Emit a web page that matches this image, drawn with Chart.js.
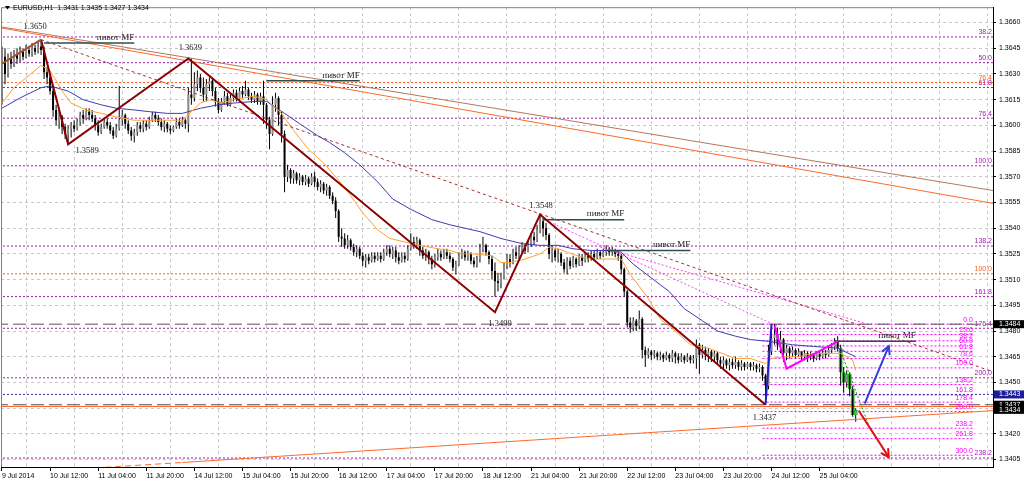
<!DOCTYPE html>
<html>
<head>
<meta charset="utf-8">
<title>EURUSD,H1</title>
<script src="https://cdn.jsdelivr.net/npm/chart.js@4.4.1/dist/chart.umd.min.js"></script>
<style>
  html, body { margin: 0; padding: 0; background: #fff; }
  #wrap { width: 1024px; height: 482px; }
</style>
</head>
<body>
<div id="wrap"><canvas id="mycanvas" width="1024" height="482"></canvas></div>
<script>
// EURUSD H1, bar 0 = 9 Jul 2014 20:00 ... bar 284 = 25 Jul 2014 16:00
var opens = [
  1.3627,1.3640,1.3630,1.3639,1.3636,1.3641,1.3639,1.3643,1.3640,1.3644,
  1.3642,1.3645,1.3643,1.3646,1.3644,1.3631,1.3628,1.3620,1.3609,1.3603,
  1.3605,1.3599,1.3595,1.3598,1.3600,1.3598,1.3602,1.3606,1.3604,1.3608,
  1.3606,1.3604,1.3600,1.3596,1.3599,1.3602,1.3600,1.3597,1.3594,1.3598,
  1.3603,1.3606,1.3601,1.3597,1.3594,1.3596,1.3600,1.3598,1.3601,1.3599,
  1.3603,1.3606,1.3604,1.3602,1.3599,1.3601,1.3598,1.3597,1.3599,1.3602,
  1.3600,1.3603,1.3601,1.3618,1.3616,1.3624,1.3628,1.3622,1.3618,1.3624,
  1.3626,1.3620,1.3614,1.3609,1.3614,1.3617,1.3612,1.3616,1.3619,1.3616,
  1.3620,1.3618,1.3621,1.3617,1.3615,1.3618,1.3614,1.3617,1.3612,1.3603,
  1.3595,1.3612,1.3616,1.3606,1.3595,1.3570,1.3574,1.3569,1.3572,1.3568,
  1.3570,1.3567,1.3569,1.3566,1.3570,1.3567,1.3564,1.3566,1.3562,1.3564,
  1.3559,1.3556,1.3550,1.3535,1.3534,1.3530,1.3533,1.3529,1.3526,1.3528,
  1.3524,1.3521,1.3523,1.3521,1.3524,1.3522,1.3524,1.3522,1.3526,1.3528,
  1.3525,1.3527,1.3523,1.3521,1.3524,1.3522,1.3528,1.3532,1.3530,1.3533,
  1.3527,1.3524,1.3526,1.3522,1.3519,1.3523,1.3525,1.3523,1.3526,1.3524,
  1.3522,1.3517,1.3519,1.3524,1.3526,1.3523,1.3525,1.3521,1.3519,1.3522,
  1.3528,1.3530,1.3526,1.3522,1.3515,1.3509,1.3508,1.3512,1.3518,1.3522,
  1.3520,1.3526,1.3524,1.3527,1.3529,1.3527,1.3531,1.3535,1.3533,1.3539,
  1.3544,1.3540,1.3536,1.3525,1.3527,1.3523,1.3525,1.3520,1.3516,1.3521,
  1.3518,1.3522,1.3519,1.3523,1.3521,1.3524,1.3522,1.3525,1.3523,1.3526,
  1.3524,1.3526,1.3528,1.3526,1.3527,1.3525,1.3524,1.3516,1.3503,1.3485,
  1.3482,1.3486,1.3483,1.3487,1.3469,1.3466,1.3468,1.3466,1.3467,1.3465,
  1.3466,1.3464,1.3466,1.3464,1.3467,1.3465,1.3463,1.3465,1.3463,1.3465,
  1.3463,1.3464,1.3472,1.3466,1.3469,1.3466,1.3468,1.3465,1.3467,1.3463,
  1.3461,1.3463,1.3460,1.3462,1.3460,1.3462,1.3459,1.3461,1.3459,1.3461,
  1.3459,1.3460,1.3458,1.3459,1.3454,1.3448,1.3468,1.3476,1.3478,1.3472,
  1.3475,1.3467,1.3470,1.3467,1.3469,1.3466,1.3468,1.3465,1.3467,1.3465,
  1.3466,1.3464,1.3467,1.3465,1.3467,1.3466,1.3469,1.3471,1.3474,1.3470,
  1.3456,1.3450,1.3455,1.3446,1.3431
];
var highs = [
  1.3646,1.3645,1.3642,1.3643,1.3644,1.3645,1.3646,1.3645,1.3647,1.3646,
  1.3648,1.3647,1.3649,1.3650,1.3646,1.3634,1.3630,1.3622,1.3612,1.3609,
  1.3606,1.3601,1.3600,1.3602,1.3603,1.3604,1.3608,1.3609,1.3610,1.3610,
  1.3609,1.3606,1.3603,1.3601,1.3604,1.3604,1.3602,1.3599,1.3601,1.3623,
  1.3609,1.3607,1.3603,1.3599,1.3598,1.3602,1.3602,1.3603,1.3603,1.3605,
  1.3608,1.3608,1.3606,1.3604,1.3603,1.3602,1.3600,1.3600,1.3604,1.3604,
  1.3605,1.3604,1.3622,1.3639,1.3631,1.3632,1.3630,1.3628,1.3627,1.3628,
  1.3628,1.3622,1.3616,1.3616,1.3620,1.3619,1.3618,1.3621,1.3621,1.3622,
  1.3623,1.3626,1.3622,1.3619,1.3620,1.3619,1.3619,1.3626,1.3613,1.3605,
  1.3617,1.3619,1.3617,1.3608,1.3597,1.3577,1.3575,1.3574,1.3573,1.3572,
  1.3571,1.3571,1.3570,1.3572,1.3573,1.3569,1.3568,1.3567,1.3566,1.3565,
  1.3561,1.3558,1.3551,1.3540,1.3537,1.3536,1.3534,1.3531,1.3530,1.3529,
  1.3526,1.3525,1.3525,1.3526,1.3526,1.3526,1.3526,1.3528,1.3530,1.3530,
  1.3529,1.3529,1.3526,1.3526,1.3526,1.3530,1.3537,1.3535,1.3535,1.3534,
  1.3529,1.3528,1.3527,1.3524,1.3525,1.3528,1.3527,1.3528,1.3528,1.3526,
  1.3523,1.3521,1.3526,1.3528,1.3527,1.3527,1.3526,1.3523,1.3524,1.3531,
  1.3535,1.3531,1.3527,1.3524,1.3520,1.3514,1.3514,1.3520,1.3525,1.3525,
  1.3528,1.3529,1.3530,1.3532,1.3531,1.3533,1.3537,1.3538,1.3542,1.3548,
  1.3546,1.3543,1.3537,1.3530,1.3528,1.3528,1.3526,1.3522,1.3523,1.3523,
  1.3524,1.3523,1.3525,1.3525,1.3526,1.3526,1.3527,1.3527,1.3528,1.3527,
  1.3528,1.3530,1.3529,1.3529,1.3528,1.3527,1.3525,1.3517,1.3504,1.3488,
  1.3488,1.3487,1.3492,1.3488,1.3471,1.3470,1.3469,1.3469,1.3468,1.3468,
  1.3467,1.3468,1.3467,1.3469,1.3468,1.3467,1.3467,1.3466,1.3467,1.3466,
  1.3466,1.3475,1.3473,1.3472,1.3471,1.3470,1.3469,1.3469,1.3468,1.3465,
  1.3465,1.3464,1.3464,1.3464,1.3465,1.3463,1.3463,1.3462,1.3462,1.3462,
  1.3462,1.3461,1.3461,1.3460,1.3455,1.3472,1.3484,1.3484,1.3482,1.3480,
  1.3476,1.3472,1.3471,1.3471,1.3470,1.3470,1.3468,1.3469,1.3468,1.3468,
  1.3467,1.3468,1.3468,1.3469,1.3469,1.3471,1.3473,1.3476,1.3477,1.3472,
  1.3459,1.3457,1.3456,1.3448,1.3435
];
var lows = [
  1.3612,1.3624,1.3628,1.3633,1.3634,1.3636,1.3637,1.3638,1.3639,1.3640,
  1.3640,1.3641,1.3642,1.3641,1.3627,1.3624,1.3618,1.3605,1.3600,1.3598,
  1.3595,1.3592,1.3589,1.3593,1.3596,1.3597,1.3600,1.3601,1.3603,1.3603,
  1.3602,1.3597,1.3594,1.3595,1.3598,1.3598,1.3595,1.3592,1.3593,1.3597,
  1.3600,1.3598,1.3595,1.3591,1.3590,1.3594,1.3596,1.3596,1.3597,1.3598,
  1.3602,1.3602,1.3600,1.3597,1.3596,1.3596,1.3595,1.3596,1.3598,1.3598,
  1.3599,1.3598,1.3596,1.3612,1.3614,1.3620,1.3619,1.3614,1.3614,1.3620,
  1.3617,1.3611,1.3607,1.3608,1.3612,1.3611,1.3611,1.3614,1.3614,1.3615,
  1.3616,1.3617,1.3615,1.3613,1.3613,1.3612,1.3612,1.3601,1.3598,1.3586,
  1.3594,1.3608,1.3600,1.3590,1.3561,1.3567,1.3566,1.3566,1.3566,1.3565,
  1.3565,1.3565,1.3564,1.3565,1.3564,1.3562,1.3561,1.3560,1.3559,1.3557,
  1.3554,1.3546,1.3532,1.3529,1.3528,1.3528,1.3527,1.3524,1.3523,1.3522,
  1.3518,1.3517,1.3519,1.3520,1.3520,1.3521,1.3520,1.3521,1.3524,1.3523,
  1.3522,1.3520,1.3519,1.3520,1.3520,1.3521,1.3527,1.3528,1.3528,1.3524,
  1.3522,1.3521,1.3519,1.3516,1.3517,1.3521,1.3521,1.3522,1.3522,1.3520,
  1.3515,1.3513,1.3518,1.3522,1.3521,1.3521,1.3519,1.3517,1.3517,1.3520,
  1.3526,1.3524,1.3519,1.3510,1.3500,1.3503,1.3505,1.3510,1.3516,1.3517,
  1.3519,1.3522,1.3522,1.3525,1.3525,1.3526,1.3529,1.3530,1.3532,1.3537,
  1.3535,1.3533,1.3522,1.3520,1.3521,1.3520,1.3518,1.3514,1.3513,1.3516,
  1.3517,1.3517,1.3518,1.3518,1.3520,1.3520,1.3521,1.3521,1.3522,1.3522,
  1.3523,1.3524,1.3524,1.3524,1.3523,1.3521,1.3513,1.3500,1.3482,1.3479,
  1.3480,1.3480,1.3481,1.3464,1.3459,1.3464,1.3463,1.3464,1.3463,1.3463,
  1.3462,1.3463,1.3462,1.3462,1.3461,1.3461,1.3462,1.3461,1.3462,1.3461,
  1.3461,1.3458,1.3455,1.3464,1.3463,1.3462,1.3462,1.3462,1.3461,1.3458,
  1.3458,1.3458,1.3457,1.3458,1.3458,1.3457,1.3457,1.3457,1.3458,1.3457,
  1.3457,1.3456,1.3456,1.3451,1.3437,1.3446,1.3466,1.3472,1.3469,1.3467,
  1.3462,1.3463,1.3464,1.3465,1.3464,1.3465,1.3463,1.3463,1.3462,1.3463,
  1.3462,1.3463,1.3463,1.3464,1.3464,1.3465,1.3467,1.3469,1.3468,1.3448,
  1.3444,1.3447,1.3442,1.3430,1.3427
];
var closes = [
  1.3640,1.3630,1.3639,1.3636,1.3641,1.3639,1.3643,1.3640,1.3644,1.3642,
  1.3645,1.3643,1.3646,1.3644,1.3631,1.3628,1.3620,1.3609,1.3603,1.3605,
  1.3599,1.3595,1.3598,1.3600,1.3598,1.3602,1.3606,1.3604,1.3608,1.3606,
  1.3604,1.3600,1.3596,1.3599,1.3602,1.3600,1.3597,1.3594,1.3598,1.3603,
  1.3606,1.3601,1.3597,1.3594,1.3596,1.3600,1.3598,1.3601,1.3599,1.3603,
  1.3606,1.3604,1.3602,1.3599,1.3601,1.3598,1.3597,1.3599,1.3602,1.3600,
  1.3603,1.3601,1.3618,1.3616,1.3624,1.3628,1.3622,1.3618,1.3624,1.3626,
  1.3620,1.3614,1.3609,1.3614,1.3617,1.3612,1.3616,1.3619,1.3616,1.3620,
  1.3618,1.3621,1.3617,1.3615,1.3618,1.3614,1.3617,1.3612,1.3603,1.3595,
  1.3612,1.3616,1.3606,1.3595,1.3570,1.3574,1.3569,1.3572,1.3568,1.3570,
  1.3567,1.3569,1.3566,1.3570,1.3567,1.3564,1.3566,1.3562,1.3564,1.3559,
  1.3556,1.3550,1.3535,1.3534,1.3530,1.3533,1.3529,1.3526,1.3528,1.3524,
  1.3521,1.3523,1.3521,1.3524,1.3522,1.3524,1.3522,1.3526,1.3528,1.3525,
  1.3527,1.3523,1.3521,1.3524,1.3522,1.3528,1.3532,1.3530,1.3533,1.3527,
  1.3524,1.3526,1.3522,1.3519,1.3523,1.3525,1.3523,1.3526,1.3524,1.3522,
  1.3517,1.3519,1.3524,1.3526,1.3523,1.3525,1.3521,1.3519,1.3522,1.3528,
  1.3530,1.3526,1.3522,1.3515,1.3509,1.3508,1.3512,1.3518,1.3522,1.3520,
  1.3526,1.3524,1.3527,1.3529,1.3527,1.3531,1.3535,1.3533,1.3539,1.3544,
  1.3540,1.3536,1.3525,1.3527,1.3523,1.3525,1.3520,1.3516,1.3521,1.3518,
  1.3522,1.3519,1.3523,1.3521,1.3524,1.3522,1.3525,1.3523,1.3526,1.3524,
  1.3526,1.3528,1.3526,1.3527,1.3525,1.3524,1.3516,1.3503,1.3485,1.3482,
  1.3486,1.3483,1.3487,1.3469,1.3466,1.3468,1.3466,1.3467,1.3465,1.3466,
  1.3464,1.3466,1.3464,1.3467,1.3465,1.3463,1.3465,1.3463,1.3465,1.3463,
  1.3464,1.3472,1.3466,1.3469,1.3466,1.3468,1.3465,1.3467,1.3463,1.3461,
  1.3463,1.3460,1.3462,1.3460,1.3462,1.3459,1.3461,1.3459,1.3461,1.3459,
  1.3460,1.3458,1.3459,1.3454,1.3448,1.3468,1.3476,1.3478,1.3472,1.3475,
  1.3467,1.3470,1.3467,1.3469,1.3466,1.3468,1.3465,1.3467,1.3465,1.3466,
  1.3464,1.3467,1.3465,1.3467,1.3466,1.3469,1.3471,1.3474,1.3470,1.3456,
  1.3450,1.3455,1.3446,1.3431,1.3434
];

// time axis: a label every 16 bars, grid halfway between
var xTickIdx = [0,16,32,48,64,80,96,112,128,144,160,176,192,208,224,240,256,272];
var xTickLabels = ['9 Jul 2014','10 Jul 12:00','11 Jul 04:00','11 Jul 20:00','14 Jul 12:00',
  '15 Jul 04:00','15 Jul 20:00','16 Jul 12:00','17 Jul 04:00','17 Jul 20:00','18 Jul 12:00',
  '21 Jul 04:00','21 Jul 20:00','22 Jul 12:00','23 Jul 04:00','23 Jul 20:00','24 Jul 12:00','25 Jul 04:00'];
var gridIdx = [8,24,40,56,72,88,104,120,136,152,168,184,200,216,232,248,264,280,296,312,328];
var priceTicks = [1.3405,1.3420,1.3435,1.3450,1.3465,1.3480,1.3495,1.3510,1.3525,
  1.3540,1.3555,1.3570,1.3585,1.3600,1.3615,1.3630,1.3645,1.3660];

// moving averages
var fastIdx = [0,4,13,16,20,23,28,33,38,44,49,55,60,63,66,69,73,77,84,88,93,97,102,107,112,116,120,125,129,134,
  139,145,149,153,157,163,166,169,174,179,182,185,188,193,197,204,206,209,215,219,224,229,235,238,244,249,254,256,260,265,
  270,276,279,283,284];
var fastMA = [1.3613,1.3622,1.3635,1.3632,1.3620,1.3613,1.3609,1.3607,1.3605,1.3603,1.3603,1.3603,1.3603,1.3608,1.3613,
  1.3615,1.3613,1.3615,1.3617,1.3615,1.3607,1.3597,1.3586,1.3578,1.3568,1.3559,1.3549,1.3539,1.3534,1.3532,
  1.3530,1.3528,1.3527,1.3525,1.3525,1.3524,1.3520,1.3520,1.3522,1.3525,1.3529,1.3528,1.3526,1.3523,1.3522,
  1.3522,1.3522,1.3513,1.3499,1.3487,1.3480,1.3472,1.3470,1.3468,1.3464,1.3464,1.3461,1.3464,1.3465,1.3465,
  1.3467,1.3467,1.3467,1.3463,1.3457];
var slowIdx = [0,6,13,16,22,27,33,38,44,49,55,60,66,72,77,84,88,94,99,105,109,114,119,125,130,136,143,149,159,166,
  173,179,185,190,196,202,206,210,216,222,227,233,238,244,249,255,263,270,278,284];
var slowMA = [1.3610,1.3616,1.3622,1.3623,1.3620,1.3615,1.3612,1.3610,1.3609,1.3608,1.3607,1.3607,1.3610,1.3612,1.3613,
  1.3614,1.3614,1.3607,1.3601,1.3594,1.3590,1.3584,1.3577,1.3567,1.3557,1.3551,1.3545,1.3542,1.3538,1.3534,
  1.3531,1.3530,1.3530,1.3528,1.3527,1.3527,1.3526,1.3519,1.3511,1.3503,1.3493,1.3486,1.3480,1.3477,1.3475,
  1.3474,1.3472,1.3471,1.3470,1.3465];

// zigzag swings
var zigIdx = [13,22,62,164,179,254];
var zigPrice = [1.3650,1.3589,1.3639,1.3491,1.3548,1.3437];
var zigText = ['1.3650','1.3589','1.3639','1.3499','1.3548','1.3437'];
var legIdx = [0,13], legPrice = [1.3636,1.3650];
var upLegIdx = [254,256], upLegPrice = [1.3437,1.3484];
var triIdx = [257,261,278], triPrice = [1.3483,1.3458,1.3474];

// pivot MF marks
var pivotFrom = [14,88,180,201,277];
var pivotTo = [44,119,207,229,304];
var pivotPrice = [1.3648,1.3626,1.3545,1.3527,1.3474];

// trend lines
var trendA = [1.36577,1.35619];   // brown, idx -1 .. 330
var trendB = [1.36571,1.35544];   // orange, idx -1 .. 330
var lowTrendIdx = [31,60,330], lowTrendPrice = [1.34001,1.34033,1.34336];
var dotTrendIdx = [13,330], dotTrendPrice = [1.3650,1.34560];
var pinkDiagA = [[181,258],[1.35446,1.34828]];
var pinkDiagB = [[199,287],[1.35290,1.34846]];
var greenDiag = [[279,289],[1.34683,1.34220]];
var arrowUp = [[287,295],[1.34377,1.34712]];
var arrowDown = [[285,295],[1.34336,1.34064]];

// fibo levels
var purpleNames = ['38.2','50.0','61.8','76.4','100.0','138.2','161.8','176.4','200.0','238.2'];
var purplePrices = [1.36516,1.36366,1.36221,1.36042,1.35764,1.35296,1.35001,1.34816,1.34527,1.34059];
var orangeNames = ['76.4','100.0'];
var orangePrices = [1.36250,1.35134];
var pinkNames = ['0.0','23.6','38.2','50.0','61.8','78.6','100.0','138.2','161.8','178.4','200.0','238.2','261.8','300.0'];
var pinkPrices = [1.34840,1.34780,1.34743,1.34713,1.34682,1.34640,1.34585,1.34488,1.34427,1.34385,1.34330,1.34233,1.34172,1.34075];
var pinkFrom = 253, pinkTo = 323;
var dashPrices = [1.3484,1.3437];
var bluePrice = 1.3443;
var orangeSolid = 1.3436;
var boxPrices = [1.3484,1.3443,1.3437,1.3434];

var X_MIN = -0.33, X_MAX = 329.68;

function seg(xs, ys, color, width, dash, order) {
	return {
		type: 'line', xAxisID: 'x', yAxisID: 'y',
		data: xs.map(function (v, k) { return {x: v, y: ys[k]}; }),
		borderColor: color, borderWidth: width, borderDash: dash || [],
		pointRadius: 0, fill: false, tension: 0, order: order
	};
}

var datasets = [];
// horizontal levels
purplePrices.forEach(function (p) { datasets.push(seg([X_MIN - 2, X_MAX + 2], [p, p], '#9a1fa8', 1, [2, 2], 20)); });
orangePrices.forEach(function (p) { datasets.push(seg([X_MIN - 2, X_MAX + 2], [p, p], '#ff5a1f', 1, [2, 2], 20)); });
pinkPrices.forEach(function (p) { datasets.push(seg([pinkFrom, pinkTo], [p, p], '#ff00ff', 1, [2, 2], 20)); });
dashPrices.forEach(function (p) { datasets.push(seg([X_MIN - 2, X_MAX + 2], [p, p], '#555555', 1, [13, 5], 19)); });
datasets.push(seg([X_MIN - 2, X_MAX + 2], [bluePrice, bluePrice], '#3030a0', 1, [2, 2], 19));
datasets.push(seg([X_MIN - 2, X_MAX + 2], [orangeSolid, orangeSolid], '#ff5a1f', 1, [], 19));

// candles
datasets.push({
	type: 'bar', xAxisID: 'x', yAxisID: 'y', order: 8, grouped: false,
	data: lows.map(function (l, i) { return {x: i, y: [l, highs[i]]}; }),
	backgroundColor: '#000000', barThickness: 1, inflateAmount: 0
});
datasets.push({
	type: 'bar', xAxisID: 'x', yAxisID: 'y', order: 7, grouped: false,
	data: opens.map(function (o, i) { return {x: i, y: [o, closes[i]]}; }),
	backgroundColor: opens.map(function (o, i) { return closes[i] >= o ? '#8c8c8c' : '#000000'; }),
	barThickness: 2, minBarLength: 1, inflateAmount: 0
});
datasets.push({
	type: 'bar', xAxisID: 'x', yAxisID: 'y', order: 6, grouped: false,
	data: [279, 280, 281, 282, 283, 284].map(function (i) { return {x: i, y: [opens[i], closes[i]]}; }),
	backgroundColor: 'rgba(0,0,0,0)', borderColor: '#00b400', borderWidth: 1,
	barThickness: 4, minBarLength: 3, inflateAmount: 0
});

// moving averages
datasets.push(seg(fastIdx, fastMA, '#ffa033', 1, [], 5));
datasets.push(seg(slowIdx, slowMA, '#3c3cb4', 1, [], 5));

// trend lines
datasets.push(seg([-1, 330], trendA, '#b4785a', 1, [], 4));
datasets.push(seg([-1, 330], trendB, '#ff6a2a', 1, [], 4));
datasets.push(seg(lowTrendIdx.slice(0, 2), lowTrendPrice.slice(0, 2), '#ff6a2a', 1, [6, 4], 4));
datasets.push(seg(lowTrendIdx.slice(1), lowTrendPrice.slice(1), '#ff6a2a', 1, [], 4));
datasets.push(seg(dotTrendIdx, dotTrendPrice, '#a03030', 1, [3, 3], 4));
datasets.push(seg(pinkDiagA[0], pinkDiagA[1], '#ff40ff', 1, [2, 2], 4));
datasets.push(seg(pinkDiagB[0], pinkDiagB[1], '#ff40ff', 1, [2, 2], 4));
datasets.push(seg(greenDiag[0], greenDiag[1], '#00a000', 1, [2, 2], 4));

// zigzag
datasets.push(seg(legIdx, legPrice, '#a0522d', 2, [], 3));
datasets.push(seg(zigIdx, zigPrice, '#8b0000', 2, [], 3));
datasets.push(seg(upLegIdx, upLegPrice, '#2020c0', 2, [], 3));
datasets.push(seg(triIdx, triPrice, '#ff00ff', 2, [], 3));
pivotFrom.forEach(function (f, k) {
	datasets.push(seg([f, pivotTo[k]], [pivotPrice[k], pivotPrice[k]], '#2f4f4f', 1.5, [], 3));
});

// arrows
datasets.push(seg(arrowUp[0], arrowUp[1], '#2f3fd8', 2, [], 1));
datasets.push(seg(arrowDown[0], arrowDown[1], '#e01010', 2, [], 1));

var overlay = {
	id: 'overlay',
	afterDatasetsDraw: function (chart) {
		var ctx = chart.ctx, xs = chart.scales.x, ys = chart.scales.y, a = chart.chartArea;
		var px = function (i) { return xs.getPixelForValue(i); };
		var py = function (p) { return ys.getPixelForValue(p); };

		ctx.save();
		ctx.beginPath();
		ctx.rect(a.left, a.top, a.right - a.left, a.bottom - a.top);
		ctx.clip();

		// level captions
		ctx.font = '7px "Liberation Sans"';
		ctx.textAlign = 'right';
		ctx.textBaseline = 'bottom';
		purplePrices.forEach(function (p, k) {
			ctx.fillStyle = '#9a1fa8';
			ctx.fillText(purpleNames[k], a.right - 1, py(p) - 1);
		});
		orangePrices.forEach(function (p, k) {
			ctx.fillStyle = '#ff5a1f';
			ctx.fillText(orangeNames[k], a.right - 1, py(p) - 1);
		});
		pinkPrices.forEach(function (p, k) {
			ctx.fillStyle = '#ff00ff';
			ctx.fillText(pinkNames[k], px(pinkTo), py(p) - 1);
		});

		// pivot captions
		ctx.font = '9px "Liberation Serif"';
		ctx.fillStyle = '#1a1a1a';
		pivotTo.forEach(function (t, k) {
			ctx.fillText('пивот MF', px(t), py(pivotPrice[k]) - 1);
		});

		// swing prices
		var off = [[-6, -13], [19, 7], [2, -11], [5, 12], [1, -9], [-1, 13]];
		ctx.font = '8.5px "Liberation Serif"';
		ctx.textAlign = 'center';
		ctx.textBaseline = 'middle';
		zigIdx.forEach(function (i, k) {
			ctx.fillText(zigText[k], px(i) + off[k][0], py(zigPrice[k]) + off[k][1]);
		});

		// arrow heads
		function head(seg2, color) {
			var x1 = px(seg2[0][0]), y1 = py(seg2[1][0]), x2 = px(seg2[0][1]), y2 = py(seg2[1][1]);
			var ang = Math.atan2(y2 - y1, x2 - x1), len = 9;
			ctx.strokeStyle = color;
			ctx.lineWidth = 2;
			ctx.beginPath();
			ctx.moveTo(x2 - len * Math.cos(ang - 0.5), y2 - len * Math.sin(ang - 0.5));
			ctx.lineTo(x2, y2);
			ctx.lineTo(x2 - len * Math.cos(ang + 0.5), y2 - len * Math.sin(ang + 0.5));
			ctx.stroke();
		}
		head(arrowUp, '#2f3fd8');
		head(arrowDown, '#e01010');
		ctx.restore();

		// frame
		ctx.save();
		ctx.strokeStyle = '#808080';
		ctx.lineWidth = 1;
		ctx.beginPath();
		ctx.moveTo(a.left + 0.5, a.bottom);
		ctx.lineTo(a.left + 0.5, a.top + 0.5);
		ctx.lineTo(a.right, a.top + 0.5);
		ctx.stroke();

		// title
		ctx.fillStyle = '#000';
		ctx.beginPath();
		ctx.moveTo(5, 6); ctx.lineTo(10, 6); ctx.lineTo(7.5, 9.5); ctx.closePath();
		ctx.fill();
		ctx.font = '7px "Liberation Sans"';
		ctx.textAlign = 'left';
		ctx.textBaseline = 'middle';
		var n = closes.length - 1;
		ctx.fillText('EURUSD,H1  ' + opens[n].toFixed(4) + ' ' + highs[n].toFixed(4) + ' ' +
			lows[n].toFixed(4) + ' ' + closes[n].toFixed(4), 13, 8);

		// price boxes on the axis
		var boxBg = ['#000000', '#1c1c9a', '#000000', '#000000'];
		boxPrices.forEach(function (p, k) {
			var y = py(p);
			ctx.fillStyle = boxBg[k];
			ctx.fillRect(a.right + 1, y - 4, 30, 8);
			ctx.fillStyle = '#ffffff';
			ctx.fillText(p.toFixed(4), a.right + 6, y);
		});
		ctx.restore();
	}
};

var ctx = document.getElementById('mycanvas').getContext('2d');
var chart = new Chart(ctx, {
	type: 'bar',
	data: { datasets: datasets },
	options: {
		responsive: false,
		animation: false,
		devicePixelRatio: 1,
		events: [],
		layout: { padding: { left: 1, top: 3, right: 0, bottom: 0 } },
		plugins: { legend: { display: false }, tooltip: { enabled: false } },
		scales: {
			x: {
				type: 'linear', position: 'bottom', min: X_MIN, max: X_MAX, offset: false,
				afterBuildTicks: function (s) { s.ticks = xTickIdx.map(function (v) { return {value: v}; }); },
				afterFit: function (s) { s.height = 15; },
				ticks: {
					autoSkip: false, maxRotation: 0, minRotation: 0, align: 'start', padding: 1,
					color: '#000', font: { family: 'Liberation Sans', size: 7 },
					callback: function (v) { return xTickLabels[xTickIdx.indexOf(v)]; }
				},
				grid: { offset: false, drawOnChartArea: false, drawTicks: true, tickLength: 4, tickColor: '#000' },
				border: { display: true, color: '#000' }
			},
			xg: {
				type: 'linear', position: 'bottom', min: X_MIN, max: X_MAX, offset: false,
				afterBuildTicks: function (s) { s.ticks = gridIdx.map(function (v) { return {value: v}; }); },
				afterFit: function (s) { s.height = 0; },
				ticks: { display: false },
				grid: { offset: false, drawTicks: false, color: '#c8c8c8', lineWidth: 1 },
				border: { display: false, dash: [3, 3] }
			},
			y: {
				type: 'linear', position: 'right', min: 1.340066, max: 1.366896, beginAtZero: false,
				afterBuildTicks: function (s) { s.ticks = priceTicks.map(function (v) { return {value: v}; }); },
				afterFit: function (s) { s.width = 31; },
				ticks: {
					padding: 3, color: '#000', font: { family: 'Liberation Sans', size: 7 },
					callback: function (v) { return v.toFixed(4); }
				},
				grid: { color: '#c8c8c8', lineWidth: 1, drawTicks: true, tickLength: 3, tickColor: '#000', tickBorderDash: [] },
				border: { display: true, color: '#000', dash: [3, 3] }
			}
		}
	},
	plugins: [overlay]
});
</script>
</body>
</html>
